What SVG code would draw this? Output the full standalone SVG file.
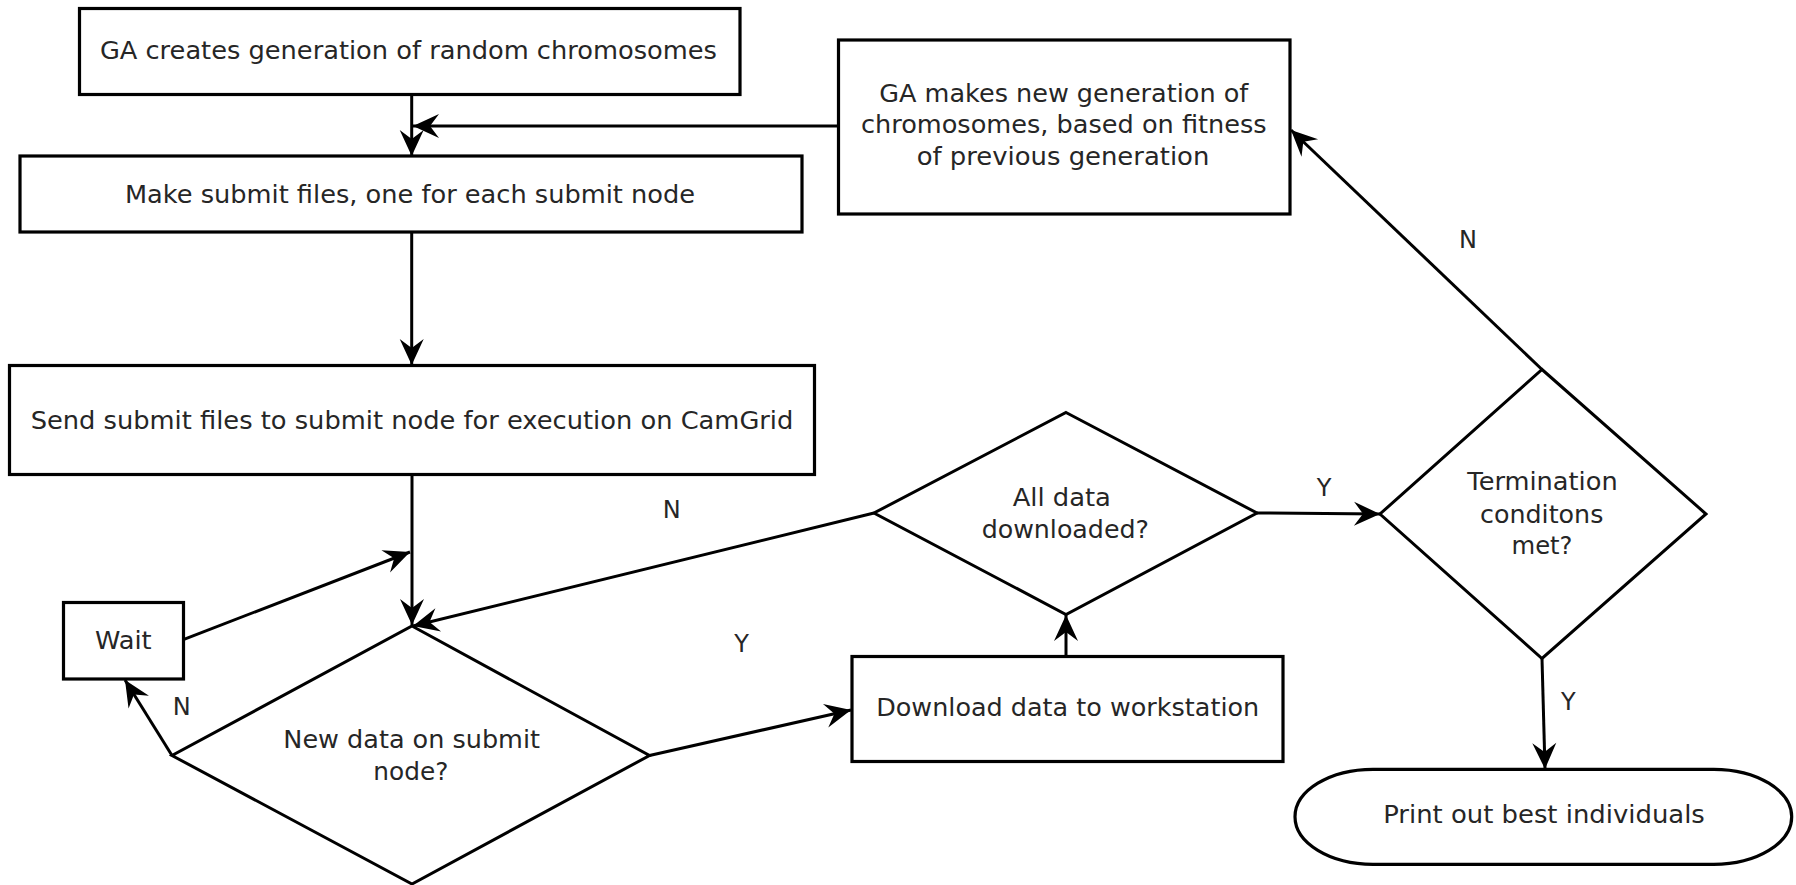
<svg xmlns="http://www.w3.org/2000/svg" width="1796" height="885" viewBox="0 0 1796 885">
<style>
  .box { fill: #fff; stroke: #000; stroke-width: 3.2; }
  .dia { fill: #fff; stroke: #000; stroke-width: 3; stroke-linejoin: miter; }
  .con { fill: none; stroke: #000; stroke-width: 3; marker-end: url(#ah); }
  .t { font-family: "DejaVu Sans", "Liberation Sans", sans-serif; font-size: 24px; fill: #262626; text-anchor: middle; }
</style>
<defs>
  <marker id="ah" markerWidth="30" markerHeight="30" viewBox="-28 -15 30 30" refX="0" refY="0" orient="auto" markerUnits="userSpaceOnUse">
    <path d="M0,0 L-26,-12 L-17,0 L-26,12 Z" fill="#000"/>
  </marker>
</defs>
<rect width="1796" height="885" fill="#fff"/>

<g id="connectors">
  <path class="con" d="M411.7,94.3 L411.7,156"/>
  <path class="con" d="M838.5,126 L413,126"/>
  <path class="con" d="M411.7,232 L411.7,365"/>
  <path class="con" d="M412,474.5 L412,625"/>
  <path class="con" d="M183.3,639.6 L410,552"/>
  <path class="con" d="M874,513 L413,626"/>
  <path class="con" d="M172,755.5 L125,680"/>
  <path class="con" d="M649.5,755.5 L851,710"/>
  <path class="con" d="M1066,656.5 L1066,615"/>
  <path class="con" d="M1257,513 L1380,514"/>
  <path class="con" d="M1542,369.5 L1291,130"/>
  <path class="con" d="M1542,658.5 L1545,769"/>
</g>

<g id="labels">
  <text class="t" x="1468" y="248.3">N</text>
  <text class="t" x="671.7" y="518">N</text>
  <text class="t" x="741.7" y="652">Y</text>
  <text class="t" x="181.7" y="714.7">N</text>
  <text class="t" x="1324" y="496.4">Y</text>
  <text class="t" x="1568.3" y="710.2">Y</text>
</g>

<g id="n-start">
  <rect class="box" x="79.5" y="8.5" width="660.5" height="86"/>
  <text class="t" x="408.4" y="59.3" textLength="617" lengthAdjust="spacingAndGlyphs">GA creates generation of random chromosomes</text>
</g>

<g id="n-make">
  <rect class="box" x="20" y="156" width="782" height="76"/>
  <text class="t" x="410" y="202.7" textLength="570" lengthAdjust="spacingAndGlyphs">Make submit files, one for each submit node</text>
</g>

<g id="n-newgen">
  <rect class="box" x="838.5" y="40" width="451.5" height="174"/>
  <text class="t" x="1063.8" y="101.7" textLength="369" lengthAdjust="spacingAndGlyphs">GA makes new generation of</text>
  <text class="t" x="1063.8" y="133.3" textLength="405.7" lengthAdjust="spacingAndGlyphs">chromosomes, based on fitness</text>
  <text class="t" x="1063" y="165" textLength="292.7" lengthAdjust="spacingAndGlyphs">of previous generation</text>
</g>

<g id="n-send">
  <rect class="box" x="9.5" y="365.5" width="805" height="109"/>
  <text class="t" x="412" y="428.6" textLength="762.7" lengthAdjust="spacingAndGlyphs">Send submit files to submit node for execution on CamGrid</text>
</g>

<g id="n-wait">
  <rect class="box" x="63.5" y="602.5" width="120" height="76.5"/>
  <text class="t" x="123.3" y="648.6" textLength="56.7" lengthAdjust="spacingAndGlyphs">Wait</text>
</g>

<g id="n-newdata">
  <polygon class="dia" points="412,626 649.5,755.5 412,884 172,755.5"/>
  <text class="t" x="411.7" y="748.4" textLength="256.7" lengthAdjust="spacingAndGlyphs">New data on submit</text>
  <text class="t" x="410.8" y="779.7" textLength="75" lengthAdjust="spacingAndGlyphs">node?</text>
</g>

<g id="n-download">
  <rect class="box" x="852" y="656.5" width="431" height="105"/>
  <text class="t" x="1067.7" y="716" textLength="383" lengthAdjust="spacingAndGlyphs">Download data to workstation</text>
</g>

<g id="n-alldata">
  <polygon class="dia" points="1066,412.5 1257,513 1066,614.5 874,513"/>
  <text class="t" x="1061.8" y="506" textLength="98.3" lengthAdjust="spacingAndGlyphs">All data</text>
  <text class="t" x="1065.3" y="538" textLength="167.3" lengthAdjust="spacingAndGlyphs">downloaded?</text>
</g>

<g id="n-term">
  <polygon class="dia" points="1542,369.5 1706,514 1542,658.5 1380,514"/>
  <text class="t" x="1542.5" y="490" textLength="150.3" lengthAdjust="spacingAndGlyphs">Termination</text>
  <text class="t" x="1541.7" y="522.5" textLength="123.3" lengthAdjust="spacingAndGlyphs">conditons</text>
  <text class="t" x="1542" y="553.8" textLength="61" lengthAdjust="spacingAndGlyphs">met?</text>
</g>

<g id="n-print">
  <path class="box" d="M1373,769.3 H1713.7 A78,47.5 0 0 1 1713.7,864.3 H1373 A78,47.5 0 0 1 1373,769.3 Z"/>
  <text class="t" x="1544" y="823" textLength="321.7" lengthAdjust="spacingAndGlyphs">Print out best individuals</text>
</g>
</svg>
